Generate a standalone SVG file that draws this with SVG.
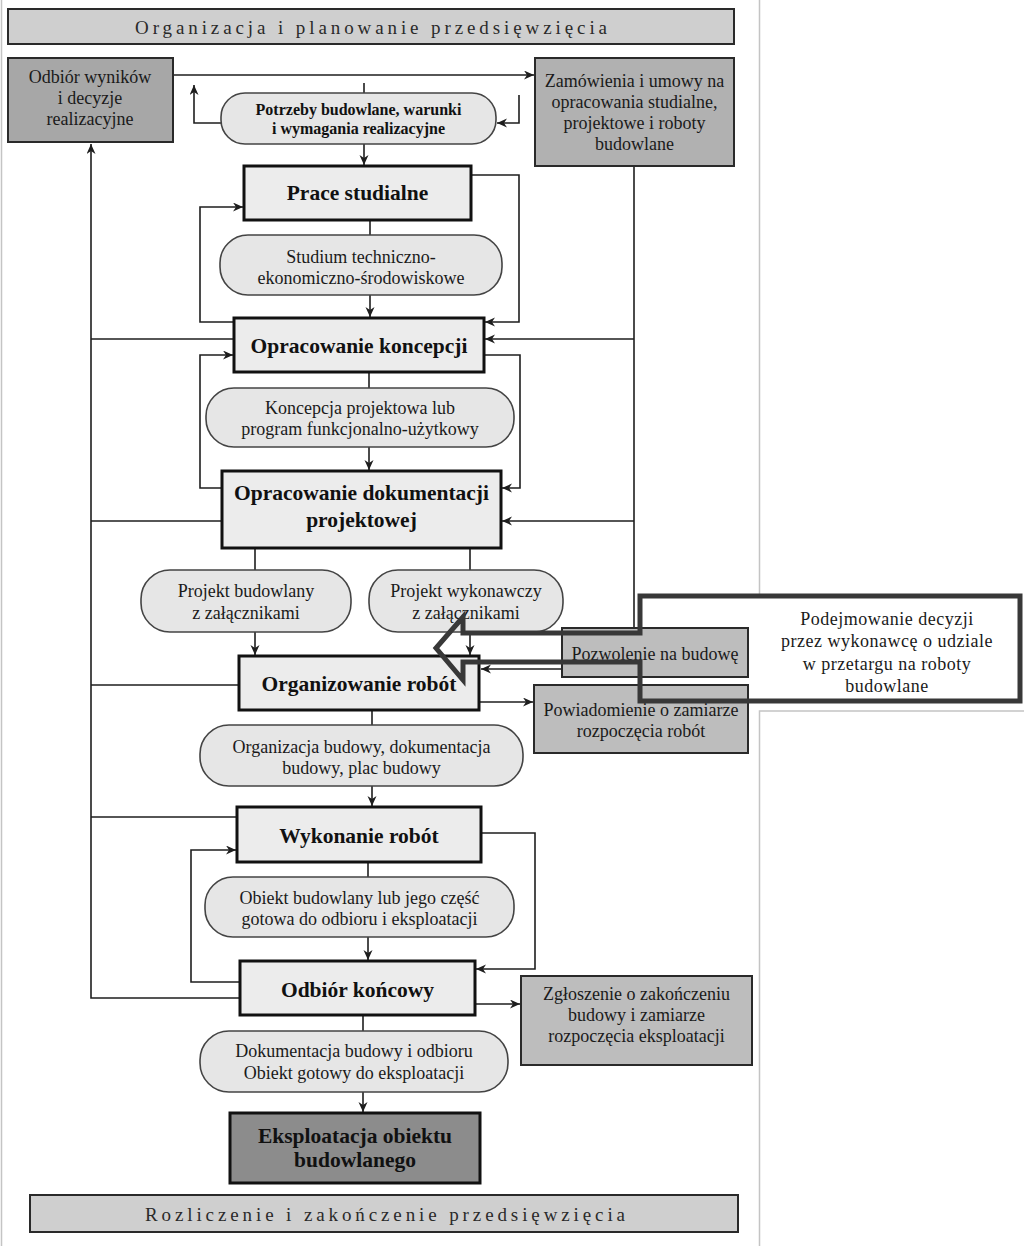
<svg xmlns="http://www.w3.org/2000/svg" width="1024" height="1246" viewBox="0 0 1024 1246">
<style>
.bar{fill:#cfcfcf;stroke:#2a2a2a;stroke-width:2}
.dark{fill:#a7a7a7;stroke:#2a2a2a;stroke-width:2}
.mid{fill:#bdbdbd;stroke:#2a2a2a;stroke-width:2}
.proc{fill:#ececec;stroke:#111;stroke-width:3}
.rnd{fill:#e6e6e6;stroke:#444;stroke-width:1.6}
.final{fill:#8c8c8c;stroke:#111;stroke-width:3}
.t{font-family:"Liberation Serif","Times New Roman",serif;font-size:18px;fill:#1a1a1a;text-anchor:middle}
.b{font-family:"Liberation Serif","Times New Roman",serif;font-size:21.5px;font-weight:bold;fill:#111;text-anchor:middle}
.bs{font-family:"Liberation Serif","Times New Roman",serif;font-size:16px;font-weight:bold;fill:#111;text-anchor:middle}
.sp{font-family:"Liberation Serif","Times New Roman",serif;font-size:19px;fill:#2a2a2a;text-anchor:start}
.c{font-family:"Liberation Serif","Times New Roman",serif;font-size:18px;fill:#1a1a1a;text-anchor:middle;letter-spacing:0.5px}
.ln{fill:none;stroke:#1e1e1e;stroke-width:1.6}
.pg{fill:none;stroke:#c4c4c4;stroke-width:1.5}
</style>
<defs>
<marker id="ah" markerUnits="userSpaceOnUse" markerWidth="11" markerHeight="10" refX="10" refY="4.5" orient="auto">
<path d="M0,0 L10,4.5 L0,9 L3,4.5 Z" fill="#1e1e1e"/>
</marker>
</defs>
<rect width="1024" height="1246" fill="#ffffff"/>
<g id="page">
<line class="pg" x1="1.5" y1="0" x2="1.5" y2="1246"/>
<line class="pg" x1="759.5" y1="0" x2="759.5" y2="596"/>
<polyline class="pg" points="1024,711 759.5,711 759.5,1246"/>
</g>
<g id="connectors">
<line class="ln" x1="173" y1="75" x2="534" y2="75" marker-end="url(#ah)"/>
<line class="ln" x1="364" y1="83" x2="364" y2="93"/>
<polyline class="ln" points="221,123 194,123 194,85" marker-end="url(#ah)"/>
<polyline class="ln" points="519,95 519,123 497,123" marker-end="url(#ah)"/>
<line class="ln" x1="364" y1="144" x2="364" y2="165" marker-end="url(#ah)"/>
<polyline class="ln" points="471,175 519,175 519,322 485,322" marker-end="url(#ah)"/>
<polyline class="ln" points="234,322 200,322 200,207 243,207" marker-end="url(#ah)"/>
<line class="ln" x1="370" y1="220" x2="370" y2="235"/>
<line class="ln" x1="370" y1="295" x2="370" y2="317" marker-end="url(#ah)"/>
<polyline class="ln" points="484,355 520,355 520,488 502,488" marker-end="url(#ah)"/>
<polyline class="ln" points="222,488 200,488 200,355 233,355" marker-end="url(#ah)"/>
<line class="ln" x1="369" y1="372" x2="369" y2="388"/>
<line class="ln" x1="369" y1="447" x2="369" y2="470" marker-end="url(#ah)"/>
<line class="ln" x1="255" y1="548" x2="255" y2="570"/>
<line class="ln" x1="470" y1="548" x2="470" y2="570"/>
<line class="ln" x1="255" y1="632" x2="255" y2="655" marker-end="url(#ah)"/>
<line class="ln" x1="470" y1="632" x2="470" y2="655" marker-end="url(#ah)"/>
<line class="ln" x1="372" y1="710" x2="372" y2="725"/>
<line class="ln" x1="372" y1="786" x2="372" y2="806" marker-end="url(#ah)"/>
<line class="ln" x1="368" y1="862" x2="368" y2="877"/>
<line class="ln" x1="368" y1="937" x2="368" y2="960" marker-end="url(#ah)"/>
<polyline class="ln" points="481,833 535,833 535,969 476,969" marker-end="url(#ah)"/>
<polyline class="ln" points="240,982 191,982 191,850 236,850" marker-end="url(#ah)"/>
<line class="ln" x1="363" y1="1015" x2="363" y2="1031"/>
<line class="ln" x1="363" y1="1092" x2="363" y2="1112" marker-end="url(#ah)"/>
<line class="ln" x1="479" y1="702" x2="533" y2="702" marker-end="url(#ah)"/>
<line class="ln" x1="475" y1="1004" x2="520" y2="1004" marker-end="url(#ah)"/>
<line class="ln" x1="562" y1="669" x2="481" y2="669" marker-end="url(#ah)"/>
<polyline class="ln" points="240,998 91,998 91,144" marker-end="url(#ah)"/>
<line class="ln" x1="91" y1="339" x2="234" y2="339"/>
<line class="ln" x1="91" y1="521" x2="222" y2="521"/>
<line class="ln" x1="91" y1="685" x2="239" y2="685"/>
<line class="ln" x1="91" y1="817" x2="237" y2="817"/>
<line class="ln" x1="634" y1="166" x2="634" y2="628"/>
<line class="ln" x1="634" y1="339" x2="485" y2="339" marker-end="url(#ah)"/>
<line class="ln" x1="634" y1="521" x2="502" y2="521" marker-end="url(#ah)"/>
</g>
<g id="top-bar">
<rect class="bar" x="8" y="9" width="726" height="35"/>
<text class="sp" x="135" y="34" textLength="472" lengthAdjust="spacing">Organizacja i planowanie przedsięwzięcia</text>
</g>
<g id="odbior-wynikow">
<rect class="dark" x="8" y="58" width="165" height="84"/>
<text class="t" x="90" y="83">Odbiór wyników</text>
<text class="t" x="90" y="104">i decyzje</text>
<text class="t" x="90" y="125">realizacyjne</text>
</g>
<g id="zamowienia">
<rect class="dark" x="535" y="58" width="199" height="108" style="fill:#b1b1b1"/>
<text class="t" x="634.5" y="87">Zamówienia i umowy na</text>
<text class="t" x="634.5" y="108">opracowania studialne,</text>
<text class="t" x="634.5" y="129">projektowe i roboty</text>
<text class="t" x="634.5" y="150">budowlane</text>
</g>
<g id="potrzeby">
<rect class="rnd" x="221" y="93" width="275" height="51" rx="24"/>
<text class="bs" x="358.5" y="115">Potrzeby budowlane, warunki</text>
<text class="bs" x="358.5" y="134">i wymagania realizacyjne</text>
</g>
<g id="prace-studialne">
<rect class="proc" x="244" y="166" width="227" height="54"/>
<text class="b" x="357.5" y="200">Prace studialne</text>
</g>
<g id="studium">
<rect class="rnd" x="220" y="235" width="282" height="60" rx="28"/>
<text class="t" x="361" y="263">Studium techniczno-</text>
<text class="t" x="361" y="284">ekonomiczno-środowiskowe</text>
</g>
<g id="opracowanie-koncepcji">
<rect class="proc" x="234" y="318" width="250" height="54"/>
<text class="b" x="359" y="353">Opracowanie koncepcji</text>
</g>
<g id="koncepcja">
<rect class="rnd" x="206" y="388" width="308" height="59" rx="28"/>
<text class="t" x="360" y="414">Koncepcja projektowa lub</text>
<text class="t" x="360" y="435">program funkcjonalno-użytkowy</text>
</g>
<g id="opracowanie-dokumentacji">
<rect class="proc" x="222" y="471" width="279" height="77"/>
<text class="b" x="361.5" y="500">Opracowanie dokumentacji</text>
<text class="b" x="361.5" y="527">projektowej</text>
</g>
<g id="projekt-budowlany">
<rect class="rnd" x="141" y="570" width="210" height="62" rx="29"/>
<text class="t" x="246" y="597">Projekt budowlany</text>
<text class="t" x="246" y="619">z załącznikami</text>
</g>
<g id="projekt-wykonawczy">
<rect class="rnd" x="369" y="570" width="194" height="62" rx="29"/>
<text class="t" x="466" y="597">Projekt wykonawczy</text>
<text class="t" x="466" y="619">z załącznikami</text>
</g>
<g id="pozwolenie">
<rect class="mid" x="562" y="628" width="186" height="49"/>
<text class="t" x="655" y="660">Pozwolenie na budowę</text>
</g>
<g id="powiadomienie">
<rect class="mid" x="534" y="685" width="214" height="68"/>
<text class="t" x="641" y="716">Powiadomienie o zamiarze</text>
<text class="t" x="641" y="737">rozpoczęcia robót</text>
</g>
<g id="organizowanie">
<rect class="proc" x="239" y="656" width="240" height="54"/>
<text class="b" x="359" y="691">Organizowanie robót</text>
</g>
<g id="organizacja-budowy">
<rect class="rnd" x="200" y="725" width="323" height="61" rx="29"/>
<text class="t" x="361.5" y="753">Organizacja budowy, dokumentacja</text>
<text class="t" x="361.5" y="774">budowy, plac budowy</text>
</g>
<g id="wykonanie">
<rect class="proc" x="237" y="807" width="244" height="55"/>
<text class="b" x="359" y="843">Wykonanie robót</text>
</g>
<g id="obiekt">
<rect class="rnd" x="205" y="877" width="309" height="60" rx="28"/>
<text class="t" x="359.5" y="904">Obiekt budowlany lub jego część</text>
<text class="t" x="359.5" y="925">gotowa do odbioru i eksploatacji</text>
</g>
<g id="odbior-koncowy">
<rect class="proc" x="240" y="961" width="235" height="54"/>
<text class="b" x="357.5" y="997">Odbiór końcowy</text>
</g>
<g id="zgloszenie">
<rect class="mid" x="521" y="976" width="231" height="89"/>
<text class="t" x="636.5" y="1000">Zgłoszenie o zakończeniu</text>
<text class="t" x="636.5" y="1021">budowy i zamiarze</text>
<text class="t" x="636.5" y="1042">rozpoczęcia eksploatacji</text>
</g>
<g id="dokumentacja">
<rect class="rnd" x="200" y="1031" width="308" height="61" rx="29"/>
<text class="t" x="354" y="1057">Dokumentacja budowy i odbioru</text>
<text class="t" x="354" y="1079">Obiekt gotowy do eksploatacji</text>
</g>
<g id="eksploatacja">
<rect class="final" x="230" y="1113" width="250" height="70"/>
<text class="b" x="355" y="1143">Eksploatacja obiektu</text>
<text class="b" x="355" y="1167">budowlanego</text>
</g>
<g id="bottom-bar">
<rect class="bar" x="30" y="1195" width="708" height="37"/>
<text class="sp" x="145" y="1221" textLength="480" lengthAdjust="spacing">Rozliczenie i zakończenie przedsięwzięcia</text>
</g>
<g id="callout">
<path d="M640,596 L1020,596 L1020,701 L640,701 L640,662 L463,662 L463,680 L436,648 L463,617 L463,633 L640,633 Z" fill="none" stroke="#383838" stroke-width="5" stroke-linejoin="miter"/>
<text class="c" x="887" y="625">Podejmowanie decyzji</text>
<text class="c" x="887" y="647">przez wykonawcę o udziale</text>
<text class="c" x="887" y="670">w przetargu na roboty</text>
<text class="c" x="887" y="692">budowlane</text>
</g>
</svg>
